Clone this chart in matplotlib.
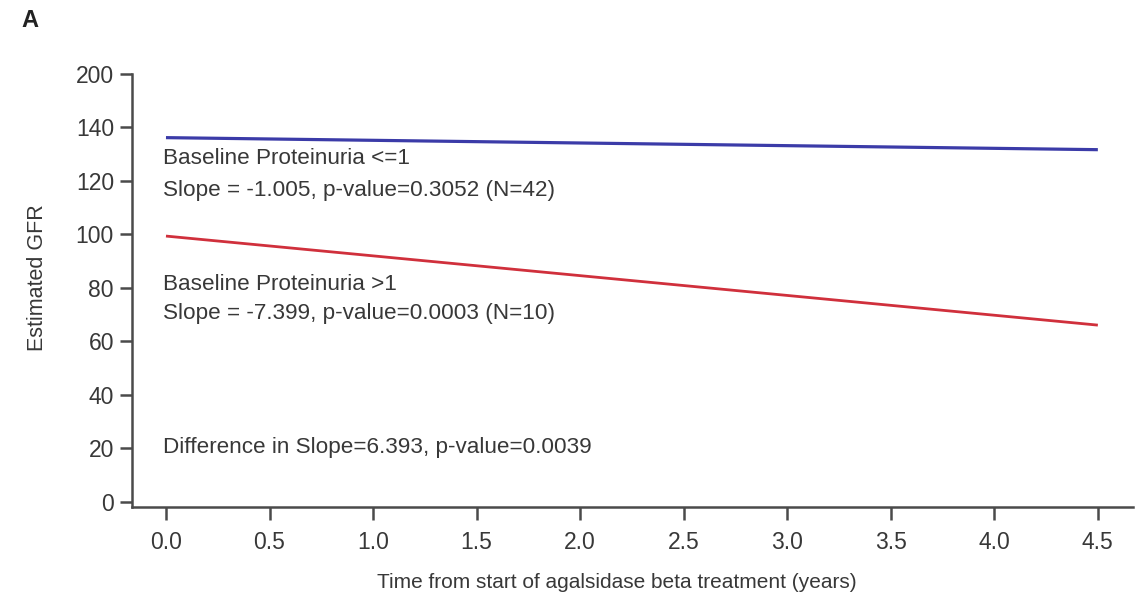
import matplotlib
matplotlib.use("Agg")
import matplotlib.pyplot as plt
import numpy as np

plt.rcParams['font.family'] = ['Liberation Sans', 'DejaVu Sans']

# Data
years = [0.0, 4.5]
gfr_low = [136.2, 131.7]    # Baseline Proteinuria <=1
gfr_high = [99.4, 66.1]     # Baseline Proteinuria >1
x_ticks = [0.0, 0.5, 1.0, 1.5, 2.0, 2.5, 3.0, 3.5, 4.0, 4.5]
x_ticklabels = ["0.0", "0.5", "1.0", "1.5", "2.0", "2.5", "3.0", "3.5", "4.0", "4.5"]
y_ticks = [0, 20, 40, 60, 80, 100, 120, 140, 160]
y_ticklabels = ["0", "20", "40", "60", "80", "100", "120", "140", "200"]

txt_color = "#383838"

fig = plt.figure(figsize=(11.43, 6.01), dpi=100)
ax = fig.add_axes([0.1155, 0.1564, 0.8758, 0.7205])

ax.plot(years, gfr_low, color="#3b3ba8", lw=2.3, solid_capstyle="butt")
ax.plot(years, gfr_high, color="#d0303c", lw=2.0, solid_capstyle="butt")

ax.set_xlim(-0.164, 4.67)
ax.set_ylim(-1.9, 160)
ax.set_xticks(x_ticks)
ax.set_xticklabels(x_ticklabels)
ax.set_yticks(y_ticks)
ax.set_yticklabels(y_ticklabels)

for s in ["top", "right"]:
    ax.spines[s].set_visible(False)
for s in ["left", "bottom"]:
    ax.spines[s].set_linewidth(1.8)
    ax.spines[s].set_color("#4a4a4a")

ax.tick_params(axis="both", direction="out", length=9, width=1.8, color="#4a4a4a",
               labelsize=16.5, labelcolor=txt_color)
ax.tick_params(axis="x", pad=8)
ax.tick_params(axis="y", pad=4)

ax.set_xlabel("Time from start of agalsidase beta treatment (years)", fontsize=15,
              color=txt_color)
ax.set_ylabel("Estimated GFR", fontsize=15.5, color=txt_color)
ax.xaxis.set_label_coords(0.484, -0.152)
ax.yaxis.set_label_coords(-0.084, 0.53)

fs = 16.2
ax.text(-0.015, 128.4, "Baseline Proteinuria <=1", fontsize=fs, color=txt_color, va="center")
ax.text(-0.015, 116.3, "Slope = -1.005, p-value=0.3052 (N=42)", fontsize=fs, color=txt_color, va="center")
ax.text(-0.015, 81.4, "Baseline Proteinuria >1", fontsize=fs, color=txt_color, va="center")
ax.text(-0.015, 70.3, "Slope = -7.399, p-value=0.0003 (N=10)", fontsize=fs, color=txt_color, va="center")
ax.text(-0.015, 20.2, "Difference in Slope=6.393, p-value=0.0039", fontsize=fs, color=txt_color, va="center")

fig.text(0.019, 0.966, "A", fontsize=17, fontweight="bold", color="#222222", va="center")

fig.savefig("out.png", dpi=100, facecolor="white")
